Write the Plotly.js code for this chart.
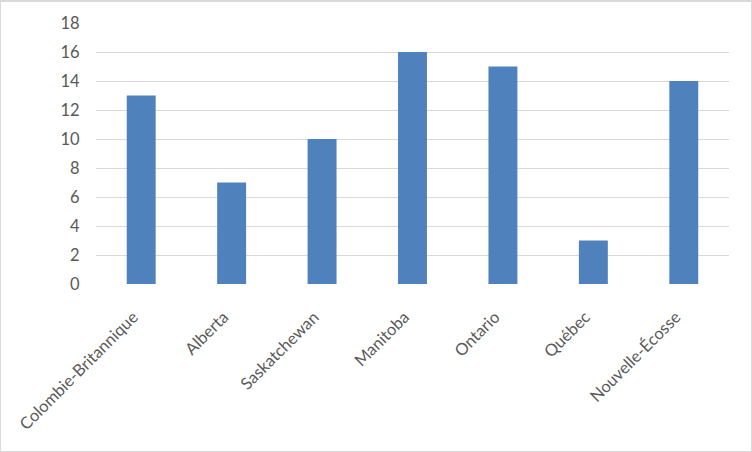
<!DOCTYPE html>
<html>
<head>
<meta charset="utf-8">
<script src="https://cdn.plot.ly/plotly-3.0.1.min.js"></script>
<style>
html,body{margin:0;padding:0;background:#fff;}
#wrap{position:relative;width:752px;height:452px;}
#chart{width:752px;height:452px;}
#frame{position:absolute;left:0;top:0;width:752px;height:452px;box-sizing:border-box;border:1px solid #d9d9d9;border-top:2px solid #d9d9d9;pointer-events:none;}
</style>
</head>
<body>
<div id="wrap"><div id="chart"></div><div id="frame"></div></div>
<script>
const categories = ["Colombie-Britannique","Alberta","Saskatchewan","Manitoba","Ontario","Québec","Nouvelle-Écosse"];
const values = [13,7,10,16,15,3,14];
const yTicks = [0,2,4,6,8,10,12,14,16,18];

const trace = {
  type: 'bar',
  x: categories,
  y: values,
  marker: {color: '#4f81bd'},
  hoverinfo: 'x+y'
};

const layout = {
  width: 752, height: 452,
  margin: {l: 96, r: 23, t: 23, b: 168},
  paper_bgcolor: '#ffffff',
  plot_bgcolor: '#ffffff',
  bargap: 0.68,
  showlegend: false,
  font: {family: 'Lato, "Open Sans", sans-serif', size: 16, color: '#595959'},
  xaxis: {
    type: 'category',
    tickangle: -45,
    showgrid: false,
    showline: false,
    zeroline: false,
    ticks: 'outside',
    ticklen: 16,
    ticklabelshift: -8,
    tickcolor: 'rgba(0,0,0,0)',
    tickfont: {size: 16.5, color: '#595959'}
  },
  yaxis: {
    range: [0, 18],
    tickvals: yTicks,
    ticktext: yTicks.map(String),
    showgrid: true,
    gridcolor: '#d9d9d9',
    gridwidth: 1,
    zeroline: false,
    showline: false,
    ticks: 'outside',
    ticklen: 12,
    tickcolor: 'rgba(0,0,0,0)',
    tickfont: {size: 16.5, color: '#595959'}
  }
};

Plotly.newPlot('chart', [trace], layout, {displayModeBar: false, staticPlot: true});
</script>
</body>
</html>
